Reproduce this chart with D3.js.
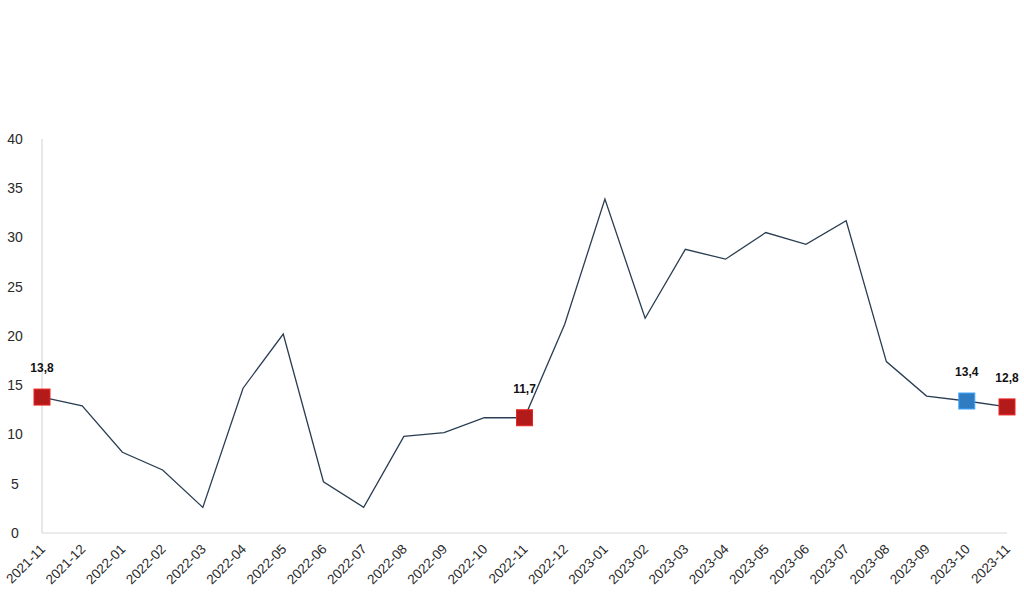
<!DOCTYPE html>
<html><head><meta charset="utf-8">
<script src="https://cdn.jsdelivr.net/npm/d3@7"></script>
<style>body{margin:0;background:#fff;font-family:"Liberation Sans",Arial,sans-serif;}</style>
</head><body><svg id="c" width="1024" height="607"></svg>
<script>
const categories = ["2021-11","2021-12","2022-01","2022-02","2022-03","2022-04","2022-05","2022-06","2022-07","2022-08","2022-09","2022-10","2022-11","2022-12","2023-01","2023-02","2023-03","2023-04","2023-05","2023-06","2023-07","2023-08","2023-09","2023-10","2023-11"];
const values = [13.8,12.9,8.2,6.4,2.6,14.7,20.2,5.2,2.6,9.8,10.2,11.7,11.7,21.2,33.9,21.8,28.8,27.8,30.5,29.3,31.7,17.4,13.9,13.4,12.8];
const yTicks = [0,5,10,15,20,25,30,35,40];
const highlights = [
  {cat:"2021-11", label:"13,8", color:"#b31b1b"},
  {cat:"2022-11", label:"11,7", color:"#b31b1b"},
  {cat:"2023-10", label:"13,4", color:"#2f7cc2"},
  {cat:"2023-11", label:"12,8", color:"#b31b1b"}
];

const svg = d3.select("#c");
const x = d3.scalePoint().domain(categories).range([42, 1007]);
const y = d3.scaleLinear().domain([0, 40]).range([533, 139]);

svg.append("line").attr("x1",42).attr("x2",42).attr("y1",y(40)).attr("y2",y(0)).attr("stroke","#d0d0d0").attr("stroke-width",1);
svg.append("line").attr("x1",42).attr("x2",1007).attr("y1",y(0)).attr("y2",y(0)).attr("stroke","#d8d8d8").attr("stroke-width",1.2);

svg.selectAll(".yt").data(yTicks).enter().append("text")
  .attr("x",15).attr("y",d=>y(d)).attr("dy","0.35em").attr("text-anchor","middle")
  .attr("font-size",14).attr("fill","#2a2a2a").text(d=>d);

svg.selectAll(".xt").data(categories).enter().append("text")
  .attr("transform",d=>`translate(${x(d)+4},${y(0)+17}) rotate(-45)`)
  .attr("text-anchor","end").attr("font-size",13.5).attr("fill","#2a2a2a").text(d=>d);

const line = d3.line().x((d,i)=>x(categories[i])).y(d=>y(d));
svg.append("path").datum(values).attr("d",line).attr("fill","none")
  .attr("stroke","#2a3d52").attr("stroke-width",1.3);

highlights.forEach(h=>{
  const i = categories.indexOf(h.cat);
  const cx = x(h.cat), cy = y(values[i]);
  svg.append("rect").attr("x",cx-8).attr("y",cy-8).attr("width",16).attr("height",16)
    .attr("fill",h.color).attr("stroke",d3.color(h.color).brighter(0.8)).attr("stroke-width",1);
  svg.append("text").attr("x",cx).attr("y",cy-25).attr("text-anchor","middle")
    .attr("font-size",12).attr("font-weight","bold").attr("fill","#111").text(h.label);
});
</script></body></html>
